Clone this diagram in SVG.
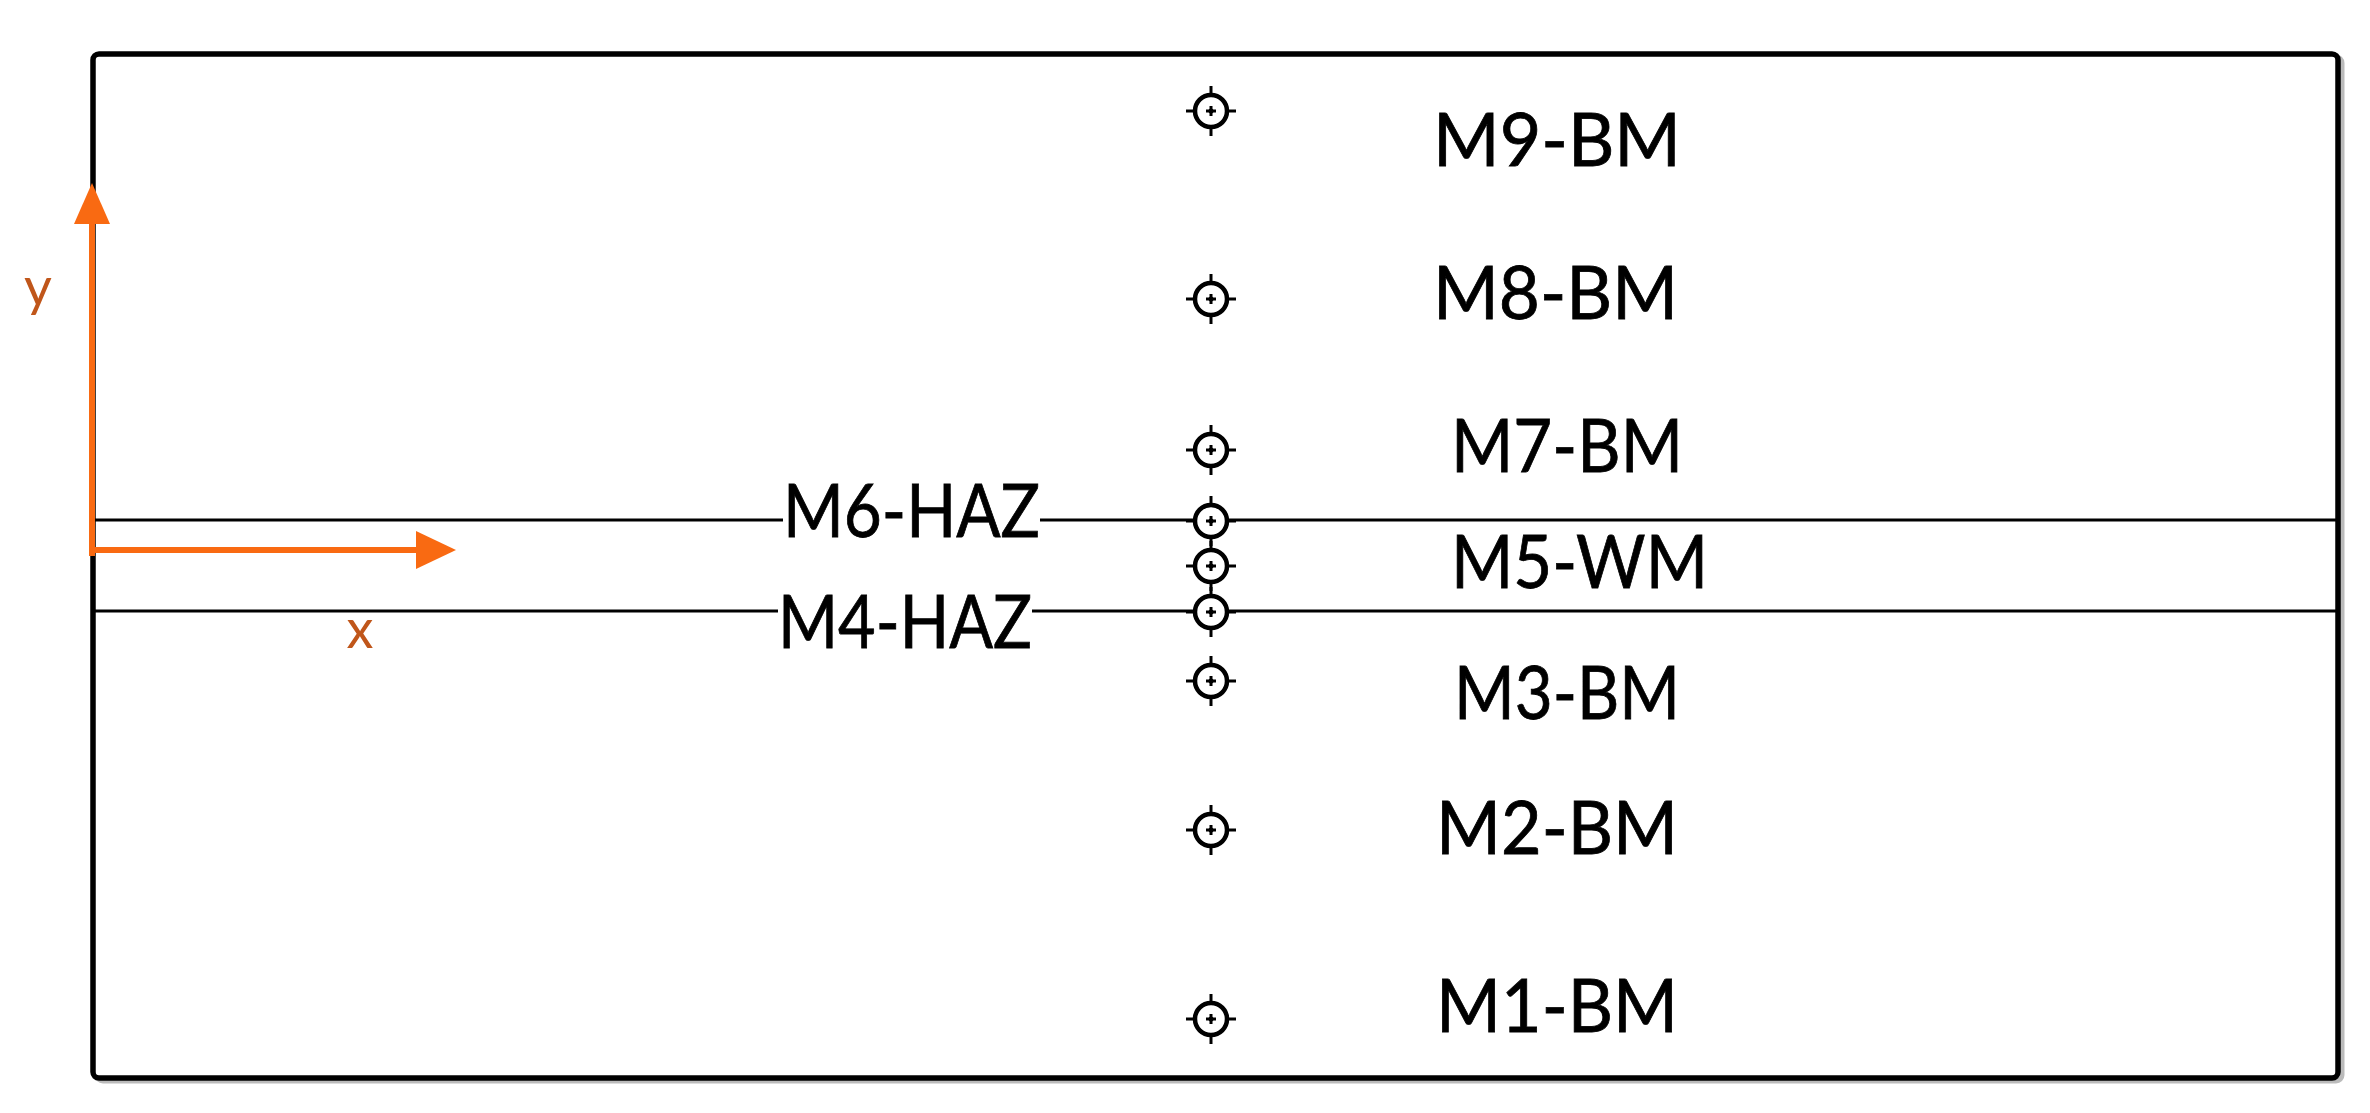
<svg xmlns="http://www.w3.org/2000/svg" width="2370" height="1113" viewBox="0 0 2370 1113">
<style>
.lbl{font-family:Lato,"Liberation Sans",sans-serif;font-size:74px;fill:#000;stroke:#000;stroke-width:0.8}
.ax{font-family:Lato,"Liberation Sans",sans-serif;font-size:54px;fill:#C0561A}
.ln{stroke:#000;stroke-width:3}
.arr{stroke:#F96A12;stroke-width:6;fill:none}
</style>
<defs>
<g id="marker">
<circle cx="0" cy="0" r="16" fill="#fff" stroke="#000" stroke-width="4.5"/>
<path d="M0,-25V-18M0,18V25M-25,0H-18M18,0H25M-5,0H5M0,-5V5" stroke="#000" stroke-width="3" fill="none"/>
<circle cx="0" cy="0" r="2.5" fill="#000"/>
</g>
</defs>
<rect x="97" y="57" width="2245" height="1024" rx="6" fill="none" stroke="#bbb" stroke-width="5"/>
<rect id="frame" x="93" y="54" width="2245" height="1024" rx="6" fill="#fff" stroke="#000" stroke-width="5.5"/>
<g id="connectors">
<path class="ln" d="M93,520H783M1040,520H2338"/>
<path class="ln" d="M93,611H778M1032,611H2338"/>
<path class="arr" d="M92,556V222"/>
<polygon points="92,183 74,224 110,224" fill="#F96A12"/>
<path class="arr" d="M92,550H418"/>
<polygon points="456,550 416,531 416,569" fill="#F96A12"/>
</g>
<g id="axis-y"><text class="ax" x="38" y="306" text-anchor="middle">y</text></g>
<g id="axis-x"><text class="ax" x="360" y="648" text-anchor="middle">x</text></g>
<g id="M9"><use href="#marker" x="1211" y="111"/><text class="lbl" x="1433" y="166" textLength="248" lengthAdjust="spacingAndGlyphs">M9-BM</text></g>
<g id="M8"><use href="#marker" x="1211" y="299"/><text class="lbl" x="1433" y="319" textLength="245" lengthAdjust="spacingAndGlyphs">M8-BM</text></g>
<g id="M7"><use href="#marker" x="1211" y="450"/><text class="lbl" x="1451" y="472" textLength="232" lengthAdjust="spacingAndGlyphs">M7-BM</text></g>
<g id="M6"><use href="#marker" x="1211" y="521"/><text class="lbl" x="783" y="537" textLength="257" lengthAdjust="spacingAndGlyphs">M6-HAZ</text></g>
<g id="M5"><use href="#marker" x="1211" y="566"/><text class="lbl" x="1451" y="588" textLength="257" lengthAdjust="spacingAndGlyphs">M5-WM</text></g>
<g id="M4"><use href="#marker" x="1211" y="612"/><text class="lbl" x="778" y="648" textLength="254" lengthAdjust="spacingAndGlyphs">M4-HAZ</text></g>
<g id="M3"><use href="#marker" x="1211" y="681"/><text class="lbl" x="1454" y="719" textLength="226" lengthAdjust="spacingAndGlyphs">M3-BM</text></g>
<g id="M2"><use href="#marker" x="1211" y="830"/><text class="lbl" x="1436" y="854" textLength="242" lengthAdjust="spacingAndGlyphs">M2-BM</text></g>
<g id="M1"><use href="#marker" x="1211" y="1019"/><text class="lbl" x="1436" y="1032" textLength="242" lengthAdjust="spacingAndGlyphs">M1-BM</text></g>
</svg>
